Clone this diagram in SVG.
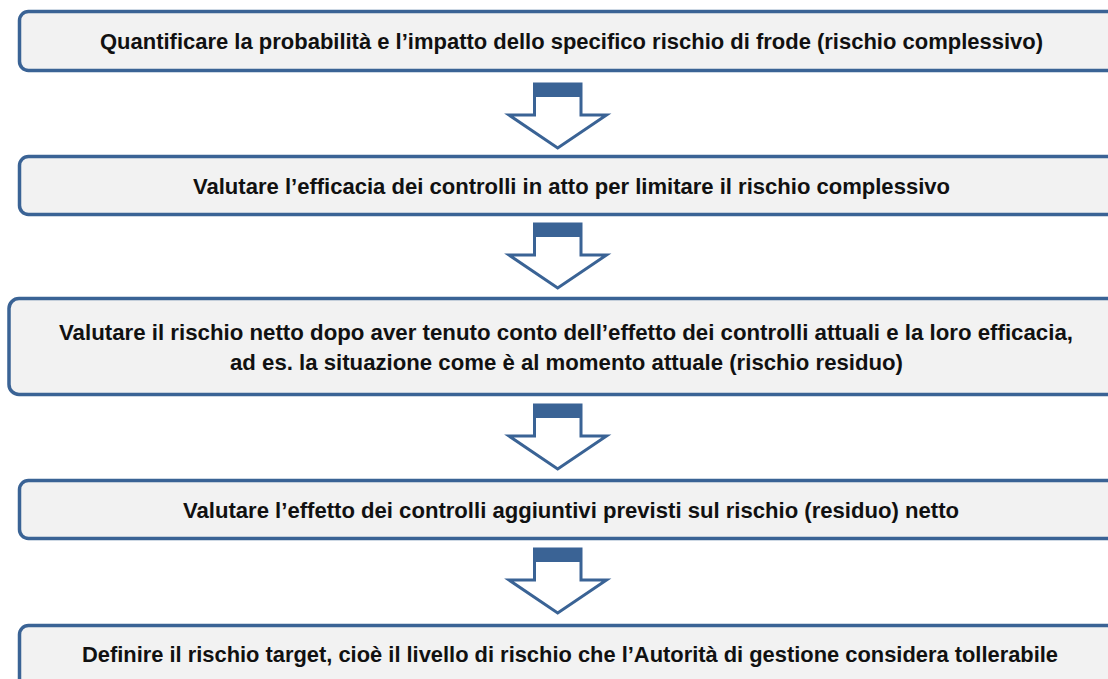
<svg xmlns="http://www.w3.org/2000/svg" width="1108" height="679" viewBox="0 0 1108 679">
<defs>
<style>
.box{fill:#f2f2f2;stroke:#3a6395;stroke-width:3.5}
.t{font-family:"Liberation Sans",Arial,sans-serif;font-weight:bold;font-size:22px;fill:#111;text-anchor:middle}
.ao{fill:#fff;stroke:#3a6395;stroke-width:3;stroke-linejoin:miter}
.ac{fill:#3a6395}
</style>
<g id="arrow">
<path class="ao" d="M534.5,0 L534.5,31 L509,31 L557.7,64 L606.5,31 L581,31 L581,0 Z"/>
<rect class="ac" x="534.5" y="0" width="46.5" height="13"/>
</g>
</defs>
<g id="connectors">
<use href="#arrow" y="84"/>
<use href="#arrow" y="224"/>
<use href="#arrow" y="405"/>
<use href="#arrow" y="549"/>
</g>
<g id="node1">
<rect class="box" x="19.5" y="11.5" width="1120" height="59" rx="9"/>
<text class="t" x="571.5" y="49" textLength="943" lengthAdjust="spacingAndGlyphs">Quantificare la probabilità e l’impatto dello specifico rischio di frode (rischio complessivo)</text>
</g>
<g id="node2">
<rect class="box" x="19.5" y="156.5" width="1120" height="58" rx="9"/>
<text class="t" x="571.5" y="193.5" textLength="757" lengthAdjust="spacingAndGlyphs">Valutare l’efficacia dei controlli in atto per limitare il rischio complessivo</text>
</g>
<g id="node3">
<rect class="box" x="9" y="298.5" width="1130" height="96" rx="10"/>
<text class="t" x="566" y="340" textLength="1014" lengthAdjust="spacingAndGlyphs">Valutare il rischio netto dopo aver tenuto conto dell’effetto dei controlli attuali e la loro efficacia,</text>
<text class="t" x="566.5" y="370" textLength="673" lengthAdjust="spacingAndGlyphs">ad es. la situazione come è al momento attuale (rischio residuo)</text>
</g>
<g id="node4">
<rect class="box" x="19.5" y="480.5" width="1120" height="58" rx="9"/>
<text class="t" x="571" y="517.5" textLength="776" lengthAdjust="spacingAndGlyphs">Valutare l’effetto dei controlli aggiuntivi previsti sul rischio (residuo) netto</text>
</g>
<g id="node5">
<rect class="box" x="19.5" y="625.5" width="1120" height="80" rx="9"/>
<text class="t" x="570" y="662" textLength="976" lengthAdjust="spacingAndGlyphs">Definire il rischio target, cioè il livello di rischio che l’Autorità di gestione considera tollerabile</text>
</g>
</svg>
